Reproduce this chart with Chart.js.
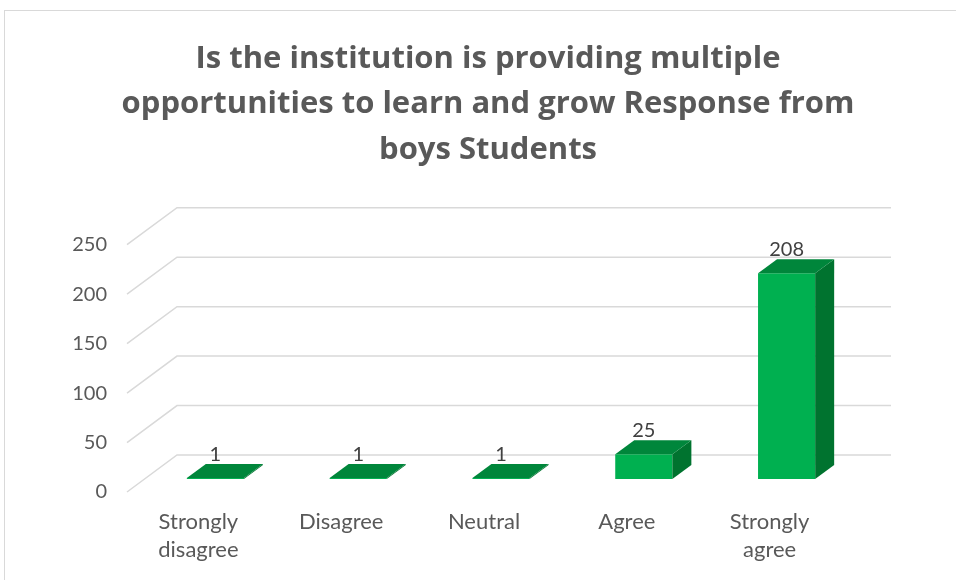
<!DOCTYPE html>
<html>
<head>
<meta charset="utf-8">
<script src="https://cdn.jsdelivr.net/npm/chart.js@4"></script>
<style>
  html, body { margin: 0; padding: 0; background: #fff; }
  #wrap { width: 956px; height: 580px; }
</style>
</head>
<body>
<div id="wrap"><canvas id="responseChart" width="956" height="580"></canvas></div>
<script>
/************************************************************
 * DATA
 ************************************************************/
const categories = [["Strongly", "disagree"], "Disagree", "Neutral", "Agree", ["Strongly", "agree"]];
const responses = [1, 1, 1, 25, 208];
const yTicks = [0, 50, 100, 150, 200, 250];
const titleLines = [
  "Is the institution is providing multiple",
  "opportunities to learn and grow Response from",
  "boys Students",
];

/************************************************************
 * 3D LOOK (oblique projection)
 ************************************************************/
const WALL_DX = 50, WALL_DY = -37;   // floor depth
const BAR_DX = 17, BAR_DY = -13;     // bar front face behind front plane
const DEPTH_DX = 19, DEPTH_DY = -14; // bar depth
const FONT = "Lato, 'Open Sans', sans-serif";
const TITLE_FONT = "'Open Sans', Lato, sans-serif";

const framePlugin = {
  id: "frame",
  beforeDraw(chart) {
    const ctx = chart.ctx;
    ctx.save();
    ctx.strokeStyle = "#d9d9d9";
    ctx.lineWidth = 1;
    ctx.strokeRect(4.5, 10.5, chart.width + 20, chart.height + 20);
    ctx.restore();
  },
};

const wallPlugin = {
  id: "wall",
  beforeDatasetsDraw(chart) {
    const { ctx, chartArea, scales } = chart;
    ctx.save();
    ctx.strokeStyle = "#d9d9d9";
    ctx.lineWidth = 1.5;
    yTicks.forEach((v) => {
      const yp = scales.y.getPixelForValue(v);
      ctx.beginPath();
      ctx.moveTo(chartArea.left, yp);
      ctx.lineTo(chartArea.left + WALL_DX, yp + WALL_DY);
      ctx.lineTo(chartArea.right + WALL_DX, yp + WALL_DY);
      ctx.stroke();
    });
    ctx.restore();
  },
};

const boxPlugin = {
  id: "box3d",
  afterDatasetsDraw(chart) {
    const ctx = chart.ctx;
    const meta = chart.getDatasetMeta(0);
    ctx.save();
    meta.data.forEach((bar, i) => {
      const x0 = bar.x - bar.width / 2 + BAR_DX;
      const x1 = bar.x + bar.width / 2 + BAR_DX;
      const yt = bar.y + BAR_DY;
      const yb = bar.base + BAR_DY;

      // front
      ctx.fillStyle = "#00b050";
      ctx.fillRect(x0, yt, x1 - x0, yb - yt);

      // side
      ctx.fillStyle = "#00732f";
      ctx.beginPath();
      ctx.moveTo(x1, yt);
      ctx.lineTo(x1 + DEPTH_DX, yt + DEPTH_DY);
      ctx.lineTo(x1 + DEPTH_DX, yb + DEPTH_DY);
      ctx.lineTo(x1, yb);
      ctx.closePath();
      ctx.fill();

      // top
      ctx.fillStyle = "#00863b";
      ctx.beginPath();
      ctx.moveTo(x0, yt);
      ctx.lineTo(x1, yt);
      ctx.lineTo(x1 + DEPTH_DX, yt + DEPTH_DY);
      ctx.lineTo(x0 + DEPTH_DX, yt + DEPTH_DY);
      ctx.closePath();
      ctx.fill();

      // value label
      ctx.fillStyle = "#404040";
      ctx.font = "20px " + FONT;
      ctx.textAlign = "center";
      ctx.textBaseline = "alphabetic";
      ctx.fillText(String(responses[i]), (x0 + x1) / 2, yt + DEPTH_DY - 3);
    });
    ctx.restore();
  },
};

/************************************************************
 * CHART
 ************************************************************/
new Chart(document.getElementById("responseChart"), {
  type: "bar",
  data: {
    labels: categories,
    datasets: [
      {
        data: responses,
        backgroundColor: "rgba(0,0,0,0)",
        categoryPercentage: 1,
        barPercentage: 0.4,
      },
    ],
  },
  options: {
    responsive: false,
    animation: false,
    layout: { padding: { left: 20, right: 0, top: 10, bottom: 0 } },
    plugins: {
      legend: { display: false },
      tooltip: { enabled: false },
      title: {
        display: true,
        text: titleLines,
        color: "#595959",
        font: { family: TITLE_FONT, size: 31, weight: "bold", lineHeight: 1.47 },
        padding: { top: 26, bottom: 72 },
      },
    },
    scales: {
      x: {
        grid: { display: false, drawTicks: false },
        border: { display: false },
        ticks: {
          color: "#595959",
          font: { family: FONT, size: 22, lineHeight: 1.27 },
          padding: 16,
          maxRotation: 0,
          autoSkip: false,
        },
        afterFit: (s) => { s.height = 88; },
      },
      y: {
        min: 0,
        max: 250,
        grid: { display: false, drawTicks: false },
        border: { display: false },
        afterBuildTicks: (s) => { s.ticks = yTicks.map((v) => ({ value: v })); },
        ticks: {
          color: "#595959",
          font: { family: FONT, size: 20 },
          padding: 20,
        },
        afterFit: (s) => { s.width = 107; },
      },
      y2: {
        type: "linear",
        position: "right",
        display: true,
        grid: { display: false, drawTicks: false },
        border: { display: false },
        ticks: { display: false },
        afterFit: (s) => { s.width = 115; },
      },
    },
  },
  plugins: [framePlugin, wallPlugin, boxPlugin],
});
</script>
</body>
</html>
